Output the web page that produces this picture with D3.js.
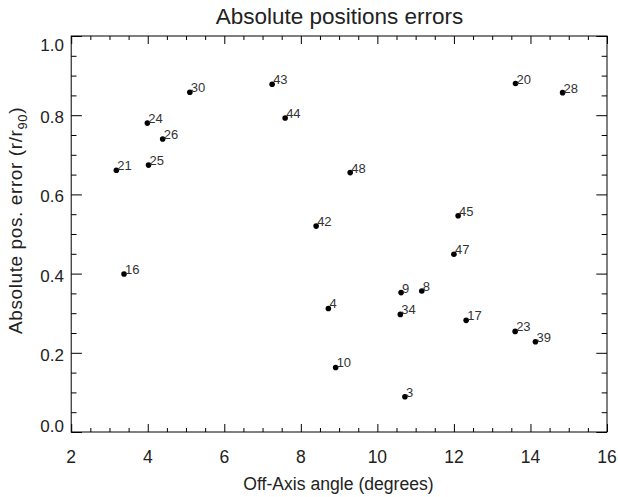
<!DOCTYPE html>
<html lang="en">
<head>
    <meta charset="UTF-8">
    <title>Absolute positions errors</title>
    <script src="https://d3js.org/d3.v7.min.js"></script>
    <style>
        body { margin: 0; background: #fff; }
        svg { display: block; font-family: "Liberation Sans", Arial, Helvetica, sans-serif; }
        .tick line { stroke: #000; }
        .lbl { fill: #333; font-size: 13px; }
    </style>
</head>
<body>
    <svg width="618" height="497"></svg>

    <script>
        // source ids, off-axis angle (deg), absolute position error (r/r90)
        const ids    = ["30", "43", "24", "44", "26", "21", "25", "42", "20", "28", "48", "45",
                        "16", "47", "9", "8", "4", "34", "17", "23", "39", "10", "3"];
        const angles = [5.10, 7.25, 3.99, 7.59, 4.39, 3.18, 4.02, 8.40, 13.61, 14.84, 9.29, 12.11,
                        3.38, 12.00, 10.62, 11.16, 8.72, 10.60, 12.32, 13.60, 14.13, 8.91, 10.72];
        const errors = [0.858, 0.878, 0.780, 0.793, 0.740, 0.661, 0.674, 0.520, 0.880, 0.857, 0.655, 0.546,
                        0.399, 0.449, 0.352, 0.356, 0.312, 0.297, 0.282, 0.254, 0.228, 0.163, 0.089];

        const xTicks = [2, 4, 6, 8, 10, 12, 14, 16];
        const yTicks = [0, 0.2, 0.4, 0.6, 0.8, 1.0];

        const svg = d3.select("svg");
        const pl = 71.2, pr = 607, pt = 36, pb = 432;

        const x = d3.scaleLinear().domain([2, 16]).range([pl, pr]);
        const y = d3.scaleLinear().domain([0, 1]).range([pb, pt]);

        const xMinor = d3.range(2, 16.001, 0.5).filter(v => v % 2 !== 0);
        const yMinor = d3.range(0, 1.0001, 0.05).map(v => +v.toFixed(2)).filter(v => Math.round(v * 100) % 20 !== 0);

        // box
        svg.append("rect")
            .attr("x", pl).attr("y", pt)
            .attr("width", pr - pl).attr("height", pb - pt)
            .attr("fill", "none").attr("stroke", "#000").attr("stroke-width", 1);

        // inward ticks on all four sides (major + minor)
        function ticks(axis, pos, vals, len) {
            const g = svg.append("g").attr("transform", pos)
                .call(axis.tickValues(vals).tickSizeInner(-len).tickSizeOuter(0).tickFormat(""));
            g.select(".domain").remove();
            g.selectAll("text").remove();
            return g;
        }
        ticks(d3.axisBottom(x), `translate(0,${pb})`, xTicks, 8);
        ticks(d3.axisBottom(x), `translate(0,${pb})`, xMinor, 4);
        ticks(d3.axisTop(x), `translate(0,${pt})`, xTicks, 8);
        ticks(d3.axisTop(x), `translate(0,${pt})`, xMinor, 4);
        ticks(d3.axisLeft(y), `translate(${pl},0)`, yTicks, 10.7);
        ticks(d3.axisLeft(y), `translate(${pl},0)`, yMinor, 5.3);
        ticks(d3.axisRight(y), `translate(${pr},0)`, yTicks, 10.7);
        ticks(d3.axisRight(y), `translate(${pr},0)`, yMinor, 5.3);

        // tick labels
        svg.append("g").selectAll("text")
            .data(xTicks).enter().append("text")
            .attr("x", d => x(d))
            .attr("y", 463)
            .attr("text-anchor", "middle")
            .attr("fill", "#222")
            .style("font-size", "17.5px")
            .text(d => d);

        svg.append("g").selectAll("text")
            .data(yTicks).enter().append("text")
            .attr("x", 64)
            .attr("y", d => y(d) + (d === 0 ? 0 : d === 1 ? 14.5 : 8))
            .attr("text-anchor", "end")
            .attr("fill", "#222")
            .style("font-size", "17px")
            .text(d3.format(".1f"));

        // points
        const pts = ids.map((id, i) => ({ id, a: angles[i], e: errors[i] }));

        svg.append("g").selectAll("circle")
            .data(pts).enter().append("circle")
            .attr("cx", d => x(d.a))
            .attr("cy", d => y(d.e))
            .attr("r", 2.8)
            .attr("fill", "#000");

        svg.append("g").selectAll("text")
            .data(pts).enter().append("text")
            .attr("class", "lbl")
            .attr("x", d => x(d.a) + 1)
            .attr("y", d => y(d.e))
            .text(d => d.id);

        // titles
        svg.append("text")
            .attr("x", 339.5).attr("y", 23.5)
            .attr("text-anchor", "middle")
            .attr("fill", "#222")
            .style("font-size", "22.5px")
            .text("Absolute positions errors");

        svg.append("text")
            .attr("x", 338.5).attr("y", 490)
            .attr("text-anchor", "middle")
            .attr("fill", "#222")
            .style("font-size", "17.6px")
            .text("Off-Axis angle (degrees)");

        const yt = svg.append("text")
            .attr("transform", "translate(21.5,334) rotate(-90)")
            .attr("fill", "#222")
            .style("font-size", "19px")
            .style("letter-spacing", "0.6px");
        yt.append("tspan").text("Absolute pos. error (r/r");
        yt.append("tspan").attr("dy", 5).style("font-size", "13px").text("90");
        yt.append("tspan").attr("dy", -5).text(")");
    </script>
</body>
</html>
